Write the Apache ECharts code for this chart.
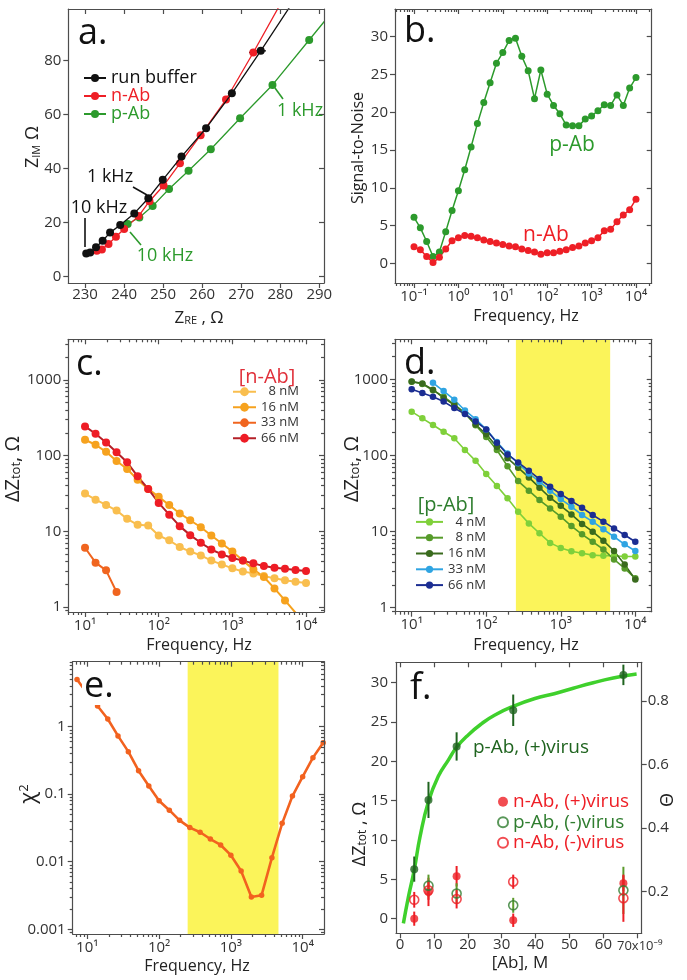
<!DOCTYPE html>
<html><head><meta charset="utf-8">
<script src="https://cdn.jsdelivr.net/npm/echarts@6/dist/echarts.min.js"></script>
<style>html,body{margin:0;padding:0;background:#fff}#c{width:687px;height:980px}</style>
</head><body><div id="c"></div>
<script>
// ---------------- DATA ----------------
// Panel a: Nyquist plot (Z_RE, Z_IM in ohm)
const aBufRe = [230.3, 231.3, 232.8, 234.5, 236.4, 239.0, 242.6, 246.2, 249.9, 254.7, 261.0, 267.6, 275.0, 283.0];
const aBufIm = [8.6, 8.9, 10.9, 13.3, 16.3, 19.1, 23.4, 29.0, 35.8, 44.4, 54.9, 67.8, 83.5, 101.0];
const aNRe = [233.0, 234.3, 236.0, 237.9, 240.0, 243.7, 246.5, 250.1, 254.3, 259.6, 266.1, 273.1, 280.1];
const aNIm = [9.6, 10.1, 12.1, 14.8, 17.6, 22.4, 27.9, 33.7, 41.9, 52.3, 65.5, 82.9, 101.0];
const aPRe = [240.9, 243.9, 247.3, 251.5, 256.5, 262.2, 269.7, 278.0, 287.4, 293.0];
const aPIm = [19.5, 21.9, 26.1, 32.4, 39.2, 47.1, 58.6, 70.9, 87.5, 97.4];
const aErrRe = [275.0, 273.1];
const aErrIm = [83.5, 82.9];
const aErrHalf = [1.3, 1.1];
const aXTicks = [230, 240, 250, 260, 270, 280, 290];
const aYTicks = [0, 20, 40, 60, 80];

// Panel b: signal-to-noise vs frequency
const freqB = [0.1, 0.139, 0.193, 0.268, 0.373, 0.518, 0.72, 1, 1.39, 1.93, 2.68, 3.73, 5.18, 7.2,
  10, 13.9, 19.3, 26.8, 37.3, 51.8, 72, 100, 139, 193, 268, 373, 518, 720, 1000, 1390, 1930, 2680,
  3730, 5180, 7200, 10000];
const bPAb = [6.1, 4.7, 2.9, 0.9, 1.5, 4.2, 7.0, 9.6, 12.4, 15.4, 18.5, 21.3, 23.9, 26.5, 27.9, 29.5,
  29.8, 27.4, 25.5, 21.8, 25.6, 22.4, 20.9, 19.8, 18.3, 18.2, 18.2, 19.1, 19.5, 20.2, 21.0, 20.9, 22.3,
  20.9, 23.2, 24.6];
const bNAb = [2.2, 1.8, 0.9, 0.1, 0.8, 1.9, 3.0, 3.4, 3.7, 3.6, 3.4, 3.1, 2.9, 2.7, 2.5, 2.3, 2.2,
  1.9, 1.7, 1.5, 1.2, 1.4, 1.4, 1.6, 1.8, 2.1, 2.3, 2.7, 3.0, 3.4, 4.3, 4.5, 5.5, 6.4, 7.1, 8.5];
const bXDecades = [-1, 0, 1, 2, 3, 4];
const bYTicks = [0, 5, 10, 15, 20, 25, 30];

// Panels c, d: dZtot vs frequency
const freqCD = [10, 13.9, 19.3, 26.8, 37.3, 51.8, 72, 100, 139, 193, 268, 373, 518, 720, 1000,
  1390, 1930, 2680, 3730, 5180, 7200, 10000];
const c8 = [31.5, 26.2, 22.3, 18.8, 14.6, 12.2, 11.9, 8.8, 7.6, 6.2, 5.4, 4.8, 4.1, 3.65, 3.24, 2.95,
  2.78, 2.56, 2.39, 2.25, 2.16, 2.07];
const c16 = [162, 139, 112, 85, 66.5, 48, 36.3, 28.5, 22.3, 17.2, 14.0, 11.3, 8.8, 6.9, 5.4, 4.1,
  3.14, 2.49, 1.76, 1.22, 0.84];
const c33 = [6.06, 3.85, 3.05, 1.58];
const c66 = [243, 194, 149, 111, 81.5, 53.2, 36.3, 23.7, 16.6, 11.7, 8.9, 7.05, 5.75, 4.95, 4.43,
  4.1, 3.77, 3.47, 3.3, 3.2, 3.08, 2.98];
const d4 = [376, 307, 251, 205, 168, 118, 85, 57, 39.6, 27.3, 18.2, 12.8, 9.5, 7.1, 6.1, 5.5, 5.2,
  4.9, 4.8, 4.8, 4.7, 4.7];
const d8 = [930, 870, 720, 590, 470, 360, 250, 175, 118, 72, 46, 34.4, 25.9, 20.1, 15.7, 11.8, 9.2,
  7.35, 5.83, 4.3, 3.28, 2.43];
const d16 = [940, 880, 730, 570, 460, 360, 255, 190, 130, 92, 69, 51.5, 37.7, 27.8, 21.8, 16.8,
  12.6, 9.95, 7.6, 5.55, 3.7, 2.35];
const d33 = [null, null, 900, 700, 540, 390, 300, 220, 150, 106, 78.7, 58, 45.2, 34.4, 26.7, 21.2,
  16.5, 13.5, 10.7, 8.55, 6.8, 5.55];
const d66 = [740, 660, 590, 510, 420, 350, 280, 220, 147, 103, 81, 63, 49, 38.8, 31.1, 25.2, 20.6,
  16.5, 13.5, 11.0, 9.0, 7.35];
const cdXDecades = [1, 2, 3, 4];
const cdYDecades = [0, 1, 2, 3];
const bandLow = 250, bandHigh = 4600;

// Panel e: chi^2 vs frequency
const freqE = [7.2, 10, 13.9, 19.3, 26.8, 37.3, 51.8, 72, 100, 139, 193, 268, 373, 518, 720, 1000,
  1390, 1930, 2680, 3730, 5180, 7200, 10000, 13900, 19300];
const eChi = [5.0, 3.1, 2.02, 1.30, 0.73, 0.427, 0.223, 0.132, 0.080, 0.058, 0.041, 0.032, 0.0273,
  0.0217, 0.0177, 0.0125, 0.0073, 0.0030, 0.0032, 0.0115, 0.037, 0.094, 0.182, 0.348, 0.58];
const eXDecades = [1, 2, 3, 4];
const eYDecades = [-3, -2, -1, 0];

// Panel f: dZtot vs [Ab] (nM)
const fConc = [4.2, 8.4, 16.7, 33.4, 65.9];
const fPPlus = [6.3, 15.1, 21.9, 26.5, 31.0];
const fPPlusErr = [1.6, 2.3, 1.8, 2.0, 1.3];
const fNPlus = [0.0, 3.4, 5.4, -0.2, 4.5];
const fNPlusErr = [0.9, 1.8, 1.3, 0.85, 1.0];
const fPMinusConc = [8.4, 16.7, 33.4, 65.9];
const fPMinus = [4.2, 3.2, 1.7, 3.6];
const fPMinusErr = [1.4, 1.3, 0.95, 3.0];
const fNMinus = [2.4, 3.6, 2.5, 4.7, 2.6];
const fNMinusErr = [1.0, 1.2, 1.2, 0.9, 3.0];
const fFitX = [1.0, 2.5, 4.2, 5.9, 8.4, 11.3, 14.3, 16.7, 20.2, 24.1, 28.0, 33.4, 39.8, 45.5, 51.1, 57.0, 62.9, 69.8];
const fFitY = [-0.6, 2.8, 6.2, 10.4, 14.9, 18.1, 20.2, 21.8, 23.4, 24.8, 25.9, 27.0, 28.0, 28.6, 29.3, 30.0, 30.6, 31.1];
const fXTicks = [0, 10, 20, 30, 40, 50, 60, 70];
const fXLabels = [0, 10, 20, 30, 40, 50, 60];
const fXLastLabel = '70x10\u207B\u2079';
const fYTicks = [0, 5, 10, 15, 20, 25, 30];
const fThetaTicks = [0.2, 0.4, 0.6, 0.8];

// ---------------- BUILD ----------------
const FONT = '"Open Sans", "Noto Sans", "DejaVu Sans", sans-serif';
const AXC = '#4d4d4d', TXC = '#333';
const SUP = {'-':'\u207B','0':'\u2070','1':'\u00B9','2':'\u00B2','3':'\u00B3','4':'\u2074','5':'\u2075','6':'\u2076','7':'\u2077','8':'\u2078','9':'\u2079'};
const sup = s => String(s).split('').map(c => SUP[c]).join('');
const lg = Math.log10;
const grids = [], xAxes = [], yAxes = [];

function grid(l, t, r, b) { grids.push({left: l, top: t, width: r - l, height: b - t, containLabel: false}); return grids.length - 1; }
function minorLog(lo, hi) {
  const out = [];
  for (let n = Math.floor(lo); n <= Math.ceil(hi); n++)
    for (let k = 2; k <= 9; k++) { const v = n + lg(k); if (v > lo && v < hi) out.push(v); }
  return out;
}
function axes(gi, isX, lo, hi, majors, minors, fmt, o = {}) {
  const list = isX ? xAxes : yAxes;
  const mainPos = o.pos || (isX ? 'bottom' : 'left');
  const mirPos = isX ? 'top' : 'right';
  const line = {color: AXC, width: 1.2};
  const base = {gridIndex: gi, type: 'value', min: lo, max: hi, splitLine: {show: false}, z: 20, silent: true};
  const push = a => { list.push(Object.assign({}, base, a)); return list.length - 1; };
  const main = push({position: mainPos,
    axisLine: {show: true, onZero: false, lineStyle: line},
    axisTick: {show: true, inside: false, length: 5, customValues: majors, lineStyle: line},
    axisLabel: {show: true, customValues: o.labels || majors, formatter: fmt, color: TXC, fontSize: 15,
      fontFamily: FONT, margin: o.margin == null ? 7 : o.margin, showMinLabel: true, showMaxLabel: true}});
  if (minors) push({position: mainPos, axisLine: {show: false, onZero: false},
    axisTick: {show: true, inside: false, length: 3, customValues: minors, lineStyle: line}, axisLabel: {show: false}});
  if (o.mirror !== false) {
    push({position: mirPos, axisLine: {show: true, onZero: false, lineStyle: line},
      axisTick: {show: true, inside: true, length: 5, customValues: majors, lineStyle: line}, axisLabel: {show: false}});
    if (minors) push({position: mirPos, axisLine: {show: false, onZero: false},
      axisTick: {show: true, inside: true, length: 3, customValues: minors, lineStyle: line}, axisLabel: {show: false}});
  }
  return main;
}
const decFmt = v => '10' + sup(Math.round(v));
const plainLogFmt = v => String(Math.round(Math.pow(10, v)));
const smallLogFmt = v => ({'0': '1', '-1': '0.1', '-2': '0.01', '-3': '0.001'})[String(Math.round(v))];

const pts = (xs, ys, fx = v => v, fy = v => v) =>
  xs.map((x, i) => (ys[i] == null ? null : [fx(x), fy(ys[i])])).filter(Boolean);

// grids
const gA = grid(68.3, 9, 324, 283);
const gB = grid(395, 9, 651.7, 283);
const gC = grid(68.3, 339.3, 324, 612);
const gD = grid(395, 339.3, 651.7, 611.7);
const gE = grid(72.7, 661.7, 324, 934);
const gF = grid(396, 662.3, 641.7, 933.3);

const AX = {
  a: {x: axes(gA, true, 225.7, 291.2, aXTicks, null, v => String(v), {margin: 4}),
      y: axes(gA, false, -2.33, 98.97, aYTicks, null, v => String(v))},
  b: {x: axes(gB, true, -1.428, 4.354, bXDecades, minorLog(-1.428, 4.354), decFmt, {margin: 6}),
      y: axes(gB, false, -2.6, 33.67, bYTicks, null, v => String(v))},
  c: {x: axes(gC, true, 0.773, 4.244, cdXDecades, minorLog(0.773, 4.244), decFmt, {margin: 6}),
      y: axes(gC, false, -0.066, 3.536, cdYDecades, minorLog(-0.066, 3.536), plainLogFmt)},
  d: {x: axes(gD, true, 0.776, 4.22, cdXDecades, minorLog(0.776, 4.22), decFmt, {margin: 6}),
      y: axes(gD, false, -0.053, 3.526, cdYDecades, minorLog(-0.053, 3.526), plainLogFmt)},
  e: {x: axes(gE, true, 0.797, 4.297, eXDecades, minorLog(0.797, 4.297), decFmt, {margin: 6}),
      y: axes(gE, false, -3.07, 0.962, eYDecades, minorLog(-3.07, 0.962), smallLogFmt)},
  f: {x: axes(gF, true, -1.18, 71.3, fXTicks, null, v => String(v), {margin: 4, labels: fXLabels}),
      y: axes(gF, false, -1.86, 32.6, fYTicks, null, v => String(v), {mirror: false, margin: 8}),
      y2: axes(gF, false, 0.069, 0.9217, fThetaTicks, null, v => v.toFixed(1), {pos: 'right', mirror: false, margin: 6})}
};

function lineS(name, ax, data, color, o = {}) {
  return {type: 'line', name, xAxisIndex: ax.x, yAxisIndex: ax.y, data, symbol: 'circle',
    symbolSize: o.size || 7, showSymbol: true, smooth: o.smooth || false, clip: true, silent: true,
    lineStyle: {color: o.lineColor || color, width: o.width || 1.5},
    itemStyle: {color}, z: o.z || 5};
}
function bandS(ax, lo, hi) {
  return {type: 'custom', xAxisIndex: ax.x, yAxisIndex: ax.y, z: 1, silent: true, clip: true,
    data: [[lg(lo), lg(hi)]],
    renderItem: (params, api) => {
      const x1 = api.coord([api.value(0), 0])[0], x2 = api.coord([api.value(1), 0])[0];
      const cs = params.coordSys;
      return {type: 'rect', shape: {x: x1, y: cs.y, width: x2 - x1, height: cs.height}, style: {fill: '#fbf45a'}};
    }};
}
function errS(ax, xs, ys, es, color, horizontal, w) {
  return {type: 'custom', xAxisIndex: ax.x, yAxisIndex: ax.y, z: 4, silent: true,
    data: xs.map((x, i) => [x, ys[i], es[i]]),
    renderItem: (params, api) => {
      const x = api.value(0), y = api.value(1), e = api.value(2);
      const p1 = horizontal ? api.coord([x - e, y]) : api.coord([x, y - e]);
      const p2 = horizontal ? api.coord([x + e, y]) : api.coord([x, y + e]);
      return {type: 'line', shape: {x1: p1[0], y1: p1[1], x2: p2[0], y2: p2[1]},
        style: {stroke: color, lineWidth: w || 2}};
    }};
}
const logPts = (xs, ys) => pts(xs, ys, lg, lg);

const C = {
  black: '#111111', red: '#ee1f26', green: '#2c9a2c',
  c8: '#f9be4e', c16: '#f6a21e', c33: '#f0651f', c66: '#ee1c25', c66line: '#b42028',
  d4: '#7fd03a', d8: '#569b2a', d16: '#3a6b1e', d33: '#2fa4e2', d66: '#1b2d92',
  e: '#f2621f', fit: '#3fd02c', fDark: '#1f641f', fOpenG: '#2f7d2f', fErrG: '#5b9a2c'
};

const series = [
  // a
  lineS('p-Ab', AX.a, pts(aPRe, aPIm), C.green, {size: 8, width: 1.3}),
  lineS('n-Ab', AX.a, pts(aNRe, aNIm), C.red, {size: 8, width: 1.3}),
  lineS('run buffer', AX.a, pts(aBufRe, aBufIm), C.black, {size: 8, width: 1.3, z: 6}),
  errS(AX.a, aErrRe, aErrIm, aErrHalf, C.black, true, 1.5),
  // b
  lineS('b p-Ab', AX.b, pts(freqB, bPAb, lg), C.green, {size: 7, width: 1.5}),
  lineS('b n-Ab', AX.b, pts(freqB, bNAb, lg), C.red, {size: 7, width: 1.5}),
  // c
  lineS('c8', AX.c, logPts(freqCD, c8), C.c8, {size: 8, width: 2}),
  lineS('c16', AX.c, logPts(freqCD, c16), C.c16, {size: 8, width: 2}),
  lineS('c33', AX.c, logPts(freqCD, c33), C.c33, {size: 8, width: 2}),
  lineS('c66', AX.c, logPts(freqCD, c66), C.c66, {size: 8, width: 2, lineColor: C.c66line}),
  // d
  bandS(AX.d, bandLow, bandHigh),
  lineS('d4', AX.d, logPts(freqCD, d4), C.d4, {size: 6.5, width: 1.6}),
  lineS('d8', AX.d, logPts(freqCD, d8), C.d8, {size: 6.5, width: 1.6}),
  lineS('d16', AX.d, logPts(freqCD, d16), C.d16, {size: 6.5, width: 1.6}),
  lineS('d33', AX.d, logPts(freqCD, d33), C.d33, {size: 6.5, width: 1.6}),
  lineS('d66', AX.d, logPts(freqCD, d66), C.d66, {size: 6.5, width: 1.6}),
  // e
  bandS(AX.e, bandLow, bandHigh),
  lineS('e chi', AX.e, logPts(freqE, eChi), C.e, {size: 5.5, width: 2.6}),
  // f
  {type: 'line', name: 'fit', xAxisIndex: AX.f.x, yAxisIndex: AX.f.y, data: pts(fFitX, fFitY),
   smooth: true, showSymbol: false, symbol: 'none', clip: true, silent: true,
   lineStyle: {color: C.fit, width: 3.5}, z: 3},
  errS(AX.f, fConc, fPPlus, fPPlusErr, C.fDark, false, 2),
  errS(AX.f, fConc, fNPlus, fNPlusErr, C.red, false, 2),
  errS(AX.f, fPMinusConc, fPMinus, fPMinusErr, C.fErrG, false, 2),
  errS(AX.f, fConc, fNMinus, fNMinusErr, C.red, false, 2),
  {type: 'scatter', name: 'p-Ab, (+)virus', xAxisIndex: AX.f.x, yAxisIndex: AX.f.y, data: pts(fConc, fPPlus),
   symbol: 'circle', symbolSize: 8, itemStyle: {color: C.fDark}, z: 6, silent: true},
  {type: 'scatter', name: 'n-Ab, (+)virus', xAxisIndex: AX.f.x, yAxisIndex: AX.f.y, data: pts(fConc, fNPlus),
   symbol: 'circle', symbolSize: 8, itemStyle: {color: C.red}, z: 6, silent: true},
  {type: 'scatter', name: 'p-Ab, (-)virus', xAxisIndex: AX.f.x, yAxisIndex: AX.f.y, data: pts(fPMinusConc, fPMinus),
   symbol: 'circle', symbolSize: 9, itemStyle: {color: 'rgba(255,255,255,0)', borderColor: C.fOpenG, borderWidth: 1.6}, z: 7, silent: true},
  {type: 'scatter', name: 'n-Ab, (-)virus', xAxisIndex: AX.f.x, yAxisIndex: AX.f.y, data: pts(fConc, fNMinus),
   symbol: 'circle', symbolSize: 9, itemStyle: {color: 'rgba(255,255,255,0)', borderColor: C.red, borderWidth: 1.6}, z: 7, silent: true}
];

const LEGLAB = {c8: '\u20078 nM', c16: '16 nM', c33: '33 nM', c66: '66 nM',
  d4: '\u20074 nM', d8: '\u20078 nM', d16: '16 nM', d33: '33 nM', d66: '66 nM'};
const legends = [
  {orient: 'vertical', left: 83, top: 69, itemWidth: 22, itemHeight: 10, itemGap: 0, selectedMode: false, padding: 0,
   data: [{name: 'run buffer', textStyle: {color: '#111'}}, {name: 'n-Ab', textStyle: {color: C.red}}, {name: 'p-Ab', textStyle: {color: C.green}}],
   textStyle: {fontSize: 18, lineHeight: 16, fontFamily: FONT}},
  {orient: 'vertical', left: 232, top: 384, itemWidth: 23, itemHeight: 11, itemGap: 0, selectedMode: false, padding: 0,
   data: ['c8', 'c16', 'c33', 'c66'], formatter: n => LEGLAB[n],
   textStyle: {fontSize: 13, lineHeight: 15.5, color: '#333', fontFamily: FONT}},
  {orient: 'vertical', left: 415, top: 514, itemWidth: 27, itemHeight: 9, itemGap: 0, selectedMode: false, padding: 0,
   data: ['d4', 'd8', 'd16', 'd33', 'd66'], formatter: n => LEGLAB[n],
   textStyle: {fontSize: 13, lineHeight: 15.8, color: '#333', fontFamily: FONT}},
  {orient: 'vertical', left: 497, top: 791.5, itemWidth: 10, itemHeight: 10, itemGap: 0, selectedMode: false, padding: 0,
   data: [{name: 'n-Ab, (+)virus', textStyle: {color: C.red}}, {name: 'p-Ab, (-)virus', textStyle: {color: C.fOpenG}},
          {name: 'n-Ab, (-)virus', textStyle: {color: C.red}}],
   textStyle: {fontSize: 19, lineHeight: 20.5, fontFamily: FONT}}
];

function txt(x, y, text, o = {}) {
  return {type: 'text', x, y, rotation: o.rot || 0, z: 100, silent: true,
    style: Object.assign({text, fontSize: o.size || 16, fontFamily: FONT, fill: o.color || '#222',
      align: o.align || 'center', verticalAlign: o.va || 'middle'}, o.style || {})};
}
function seg(x1, y1, x2, y2, color) {
  return {type: 'line', z: 100, silent: true, shape: {x1, y1, x2, y2}, style: {stroke: color, lineWidth: 1.6}};
}
const R90 = Math.PI / 2;
const richSub = (big, small) => ({a: {fontSize: big, fontFamily: FONT, fill: '#222'},
  s: {fontSize: small, fontFamily: FONT, fill: '#222', lineHeight: 6, verticalAlign: 'bottom'}});
const graphics = [
  // panel letters
  txt(78, 34, 'a.', {size: 36, align: 'left', color: '#111'}),
  txt(404, 32, 'b.', {size: 36, align: 'left', color: '#111'}),
  txt(76, 365, 'c.', {size: 36, align: 'left', color: '#111'}),
  txt(404, 364, 'd.', {size: 36, align: 'left', color: '#111'}),
  txt(82, 687, 'e.', {size: 36, align: 'left', color: '#111', style: {backgroundColor: '#fff', padding: [0, 2, 0, 2]}}),
  txt(410, 689, 'f.', {size: 36, align: 'left', color: '#111'}),
  // axis titles
  txt(199, 318, '{a|Z}{s|RE}{a| , \u03A9}', {style: {rich: richSub(17, 11)}}),
  txt(33, 147, '{a|Z}{s|IM}{a| \u03A9}', {rot: R90, style: {rich: richSub(18, 11)}}),
  txt(526, 316, 'Frequency, Hz', {size: 16}),
  txt(358, 148, 'Signal-to-Noise', {size: 16, rot: R90}),
  txt(199, 645, 'Frequency, Hz', {size: 16}),
  txt(13, 469, '{a|\u0394Z}{s|tot}{a|, \u03A9}', {rot: R90, style: {rich: richSub(20, 13)}}),
  txt(526, 645, 'Frequency, Hz', {size: 16}),
  txt(352, 469, '{a|\u0394Z}{s|tot}{a|, \u03A9}', {rot: R90, style: {rich: richSub(20, 13)}}),
  txt(197, 966, 'Frequency, Hz', {size: 16}),
  txt(29, 794, '{a|\u03C7}{p|2}', {rot: R90, style: {rich: {a: {fontSize: 22, fontFamily: FONT, fill: '#222'},
      p: {fontSize: 13, fontFamily: FONT, fill: '#222', lineHeight: 6, verticalAlign: 'top'}}}}),
  txt(520, 963, '[Ab], M', {size: 17}),
  txt(360, 834, '{a|\u0394Z}{s|tot}{a| , \u03A9}', {rot: R90, style: {rich: richSub(18, 12)}}),
  txt(668, 800, '\u0398', {size: 18, rot: R90}),
  txt(617, 946, fXLastLabel, {size: 13, align: 'left', color: TXC}),
  // annotations panel a
  txt(110, 177, '1 kHz', {size: 18, color: '#111'}),
  seg(133, 187, 147, 195, '#111'),
  txt(99, 208, '10 kHz', {size: 18, color: '#111'}),
  seg(85, 218, 85, 247, '#111'),
  txt(165, 256, '10 kHz', {size: 18, color: C.green}),
  seg(130, 232, 141, 245, C.green),
  txt(300, 111, '1 kHz', {size: 18, color: C.green}),
  seg(275, 88, 283, 99, C.green),
  // panel b
  txt(572, 145, 'p-Ab', {size: 21, color: C.green}),
  txt(546, 235, 'n-Ab', {size: 21, color: C.red}),
  // legends titles
  txt(267, 377, '[n-Ab]', {size: 20, color: '#e0303a'}),
  txt(446, 505, '[p-Ab]', {size: 20, color: '#2d7d2d'}),
  // panel f
  txt(531, 748, 'p-Ab, (+)virus', {size: 19, color: C.fDark})
];

const chart = echarts.init(document.getElementById('c'), null, {renderer: 'canvas'});
chart.setOption({
  animation: false, backgroundColor: '#ffffff',
  grid: grids, xAxis: xAxes, yAxis: yAxes, legend: legends, series,
  graphic: {elements: graphics}
});
</script></body></html>
